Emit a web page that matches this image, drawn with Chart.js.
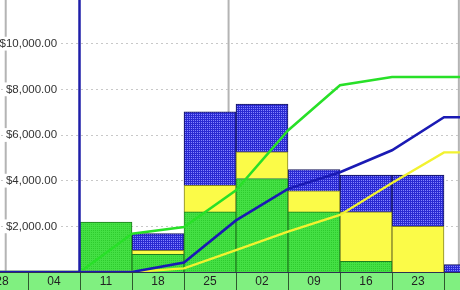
<!DOCTYPE html>
<html><head><meta charset="utf-8">
<script src="https://cdn.jsdelivr.net/npm/chart.js@4"></script>
<style>
html,body{margin:0;padding:0;background:#fff;overflow:hidden;width:460px;height:290px;}
#wrap{position:absolute;left:-71px;top:-2px;width:619px;height:293px;}
</style></head><body>
<div id="wrap"><canvas id="c" width="619" height="293"></canvas></div>
<script>
// ---- data ----
const weekDates   = ['2024-03-28','2024-04-04','2024-04-11','2024-04-18','2024-04-25','2024-05-02','2024-05-09','2024-05-16','2024-05-23','2024-05-30','2024-06-06'];
const weekLabels  = ['28','04','11','18','25','02','09','16','23','30','06'];
const greenBars   = [0, 0, 2190, 770, 2630, 4090, 2630, 470, 0, 0, 0];
const yellowBars  = [0, 0, 0, 180, 1170, 1170, 920, 2160, 2000, 0, 0];
const blueBars    = [0, 0, 0, 730, 3210, 2090, 940, 1610, 2240, 330, 0];
const greenCum    = [0, 0, 0, 1680, 1970, 3580, 6200, 8180, 8540, 8540, 8540];
const blueCum     = [0, 0, 0, 0, 420, 2260, 3640, 4370, 5330, 6780, 6780];
const yellowCum   = [0, 0, 0, 0, 160, 960, 1770, 2500, 3900, 5240, 5240];
const yTicks      = [2000, 4000, 6000, 8000, 10000];
const monthStarts = ['2024-04-01','2024-05-01','2024-06-01'];
const statusDate  = '2024-04-11';

// ---- helpers ----
const DAY = 864e5;
const t0 = Date.parse(weekDates[0]);
function dateToIndex(d){ return (Date.parse(d) - t0) / (7*DAY) - 0.5; }
const ctx = document.getElementById('c').getContext('2d');
function pattern(base, dot){
  const p = document.createElement('canvas'); p.width = 2; p.height = 2;
  const g = p.getContext('2d');
  g.fillStyle = base; g.fillRect(0,0,2,2);
  g.fillStyle = dot; g.fillRect(0,0,1,1);
  return ctx.createPattern(p, 'repeat');
}
const greenFill = pattern('#44e044', '#2ecb2e');
const blueFill  = pattern('#2a2ad2', '#8484ff');
const fmt = v => '$' + Number(v).toLocaleString('en-US', {minimumFractionDigits:2, maximumFractionDigits:2});
const lineData = arr => arr.map((v,i) => ({x: dateToIndex(weekDates[i]), y: v}));

const overlay = {
  id: 'overlay',
  beforeDraw(chart){
    const {ctx, chartArea: a, scales: {xl}} = chart;
    ctx.save();
    ctx.beginPath(); ctx.rect(a.left, a.top, a.width, a.height); ctx.clip();
    ctx.strokeStyle = '#b4b4b4'; ctx.lineWidth = 2;
    monthStarts.forEach(d => {
      const x = xl.getPixelForValue(dateToIndex(d));
      ctx.beginPath(); ctx.moveTo(x, a.top); ctx.lineTo(x, a.bottom); ctx.stroke();
    });
    ctx.restore();
  },
  afterDatasetsDraw(chart){
    const {ctx, chartArea: a, scales: {xl}} = chart;
    const x = xl.getPixelForValue(dateToIndex(statusDate)) - 0.5;
    ctx.save();
    ctx.strokeStyle = '#1e1ea8'; ctx.lineWidth = 2.5;
    ctx.beginPath(); ctx.moveTo(x, a.top); ctx.lineTo(x, a.bottom); ctx.stroke();
    ctx.restore();
  }
};

const FONT = "'Liberation Sans', Arial, sans-serif";
const barCommon = {xAxisID:'x', yAxisID:'y', stack:'bars', grouped:false, borderWidth:1, barPercentage:1, categoryPercentage:1};

new Chart(ctx, {
  type: 'bar',
  data: {
    labels: weekLabels,
    datasets: [
      {type:'line', label:'Blue cumulative', data: lineData(blueCum), xAxisID:'xl', yAxisID:'y', stack:'l1',
       borderColor:'#1a1ab4', borderWidth:2.6, pointRadius:0, tension:0, fill:false},
      {type:'line', label:'Yellow cumulative', data: lineData(yellowCum), xAxisID:'xl', yAxisID:'y', stack:'l2',
       borderColor:'#f2f230', borderWidth:2.4, pointRadius:0, tension:0, fill:false},
      {type:'line', label:'Green cumulative', data: lineData(greenCum), xAxisID:'xl', yAxisID:'y', stack:'l3',
       borderColor:'#28e028', borderWidth:2.5, pointRadius:0, tension:0, fill:false},
      Object.assign({label:'Green', data: greenBars, backgroundColor: greenFill, borderColor:'#1f7f1f'}, barCommon),
      Object.assign({label:'Yellow', data: yellowBars, backgroundColor:'#fbfb48', borderColor:'#80802a'}, barCommon),
      Object.assign({label:'Blue', data: blueBars, backgroundColor: blueFill, borderColor:'#14145a'}, barCommon)
    ]
  },
  options: {
    responsive:false, animation:false, devicePixelRatio:1,
    layout:{padding:0},
    plugins:{legend:{display:false}, tooltip:{enabled:false}},
    scales:{
      x:{
        type:'category', stacked:true, position:'bottom', offset:true,
        backgroundColor:'#80f080',
        grid:{offset:true, drawOnChartArea:false, drawTicks:true, tickLength:19, color:'#2e5a2e', lineWidth:1},
        border:{display:true, color:'#303050', width:1},
        ticks:{padding:-17, autoSkip:false, maxRotation:0, color:'#222', font:{family:FONT, size:12}},
        afterFit: s => { s.height = 19; }
      },
      xl:{
        type:'linear', display:false, offset:false, grid:{offset:false},
        min:-0.5, max: weekLabels.length - 0.5, position:'bottom'
      },
      y:{
        type:'linear', stacked:true, position:'left', min:0, max:12000,
        afterBuildTicks: s => { s.ticks = yTicks.map(v => ({value:v})); },
        afterFit: s => { s.width = 47; s.paddingTop = 0; s.paddingBottom = 0; },
        grid:{drawTicks:false, color:'#c8c8c8', lineWidth:1},
        border:{display:false, dash:[2,3]},
        ticks:{mirror:true, crossAlign:'far', padding:23.5, color:'#333',
               font:{family:FONT, size:11.5},
               showLabelBackdrop:true, backdropColor:'#ffffff', backdropPadding:{x:3, y:0},
               callback: v => fmt(v)}
      }
    }
  },
  plugins:[overlay]
});
</script>
</body></html>
